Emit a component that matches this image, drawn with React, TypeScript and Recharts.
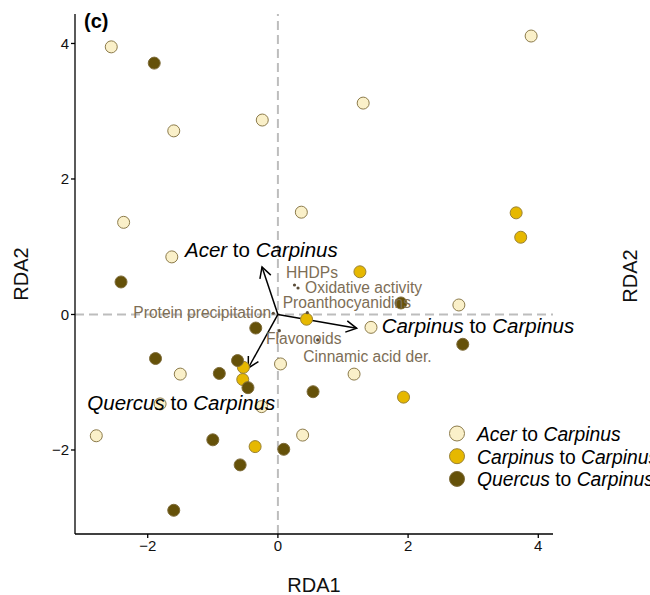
import { ScatterChart, Scatter, XAxis, YAxis, ReferenceLine, Legend } from 'recharts'

const FONT = '"Liberation Sans", Arial, sans-serif'

// site scores (RDA1, RDA2)
const acer = [
  { x: -2.56, y: 3.95 }, { x: 3.89, y: 4.11 }, { x: -1.6, y: 2.71 }, { x: -0.24, y: 2.87 },
  { x: 1.31, y: 3.12 }, { x: 0.36, y: 1.51 }, { x: -2.37, y: 1.36 }, { x: -1.63, y: 0.85 },
  { x: 2.78, y: 0.14 }, { x: 1.43, y: -0.19 }, { x: 0.04, y: -0.73 }, { x: -1.5, y: -0.88 },
  { x: 1.17, y: -0.88 }, { x: -1.81, y: -1.32 }, { x: -0.25, y: -1.36 }, { x: -2.79, y: -1.79 },
  { x: 0.38, y: -1.78 },
]
const carpinus = [
  { x: 3.66, y: 1.5 }, { x: 3.73, y: 1.14 }, { x: 1.26, y: 0.63 }, { x: 0.44, y: -0.07 },
  { x: -0.53, y: -0.78 }, { x: -0.54, y: -0.96 }, { x: 1.93, y: -1.22 }, { x: -0.35, y: -1.95 },
]
const quercus = [
  { x: -1.9, y: 3.71 }, { x: -2.41, y: 0.48 }, { x: 1.89, y: 0.17 }, { x: -0.34, y: -0.2 },
  { x: -1.88, y: -0.65 }, { x: -0.9, y: -0.87 }, { x: -0.62, y: -0.68 }, { x: -0.46, y: -1.08 },
  { x: 2.84, y: -0.44 }, { x: 0.54, y: -1.14 }, { x: -1.0, y: -1.85 }, { x: -0.58, y: -2.22 },
  { x: 0.09, y: -1.99 }, { x: -1.6, y: -2.89 },
]

// centroid arrows of the constraining factor
const arrows = [
  { from: 'Acer', x: -0.244, y: 0.701 },
  { from: 'Carpinus', x: 1.21, y: -0.204 },
  { from: 'Quercus', x: -0.455, y: -0.79 },
]

// fitted chemical variables
const envVars = [
  { name: 'HHDPs', x: 0.255, y: 0.435 },
  { name: 'Oxidative activity', x: 0.309, y: 0.391 },
  { name: 'Proanthocyanidins', x: 0.452, y: 0.027 },
  { name: 'Protein precipitation', x: -0.071, y: 0.018 },
  { name: 'Flavonoids', x: 0.022, y: -0.239 },
  { name: 'Cinnamic acid der.', x: 0.611, y: -0.376 },
]

const xTicks = [-2, 0, 2, 4]
const yTicks = [-2, 0, 2, 4]

const series = [
  { genus: 'Acer', data: acer, fill: '#FAF0C9', stroke: '#8C7B4B' },
  { genus: 'Carpinus', data: carpinus, fill: '#E6B800', stroke: '#9A8235' },
  { genus: 'Quercus', data: quercus, fill: '#655109', stroke: '#7E6C3A' },
]

// label nudges in px (like ggrepel output)
const envOffsets: Record<string, [number, number]> = {
  HHDPs: [-8.5, -7.3],
  'Oxidative activity': [7, 5.3],
  Proanthocyanidins: [-24.6, -5],
  'Protein precipitation': [-140, 5],
  Flavonoids: [-13.3, 13.6],
  'Cinnamic acid der.': [-14.4, 21.7],
}
const arrowOffsets: Record<string, [number, number]> = {
  Acer: [-77, -10],
  Carpinus: [25, 5],
  Quercus: [-161, 42],
}

const fmt = (v: number) => (v < 0 ? `\u2212${-v}` : `${v}`)

const dot = (fill: string, stroke: string) => (p: any) =>
  <circle cx={p.cx} cy={p.cy} r={6} fill={fill} stroke={stroke} strokeWidth={1} />

const Arrow = (p: any) => {
  const { x1, y1, x2, y2 } = p
  const a = Math.atan2(y2 - y1, x2 - x1)
  const L = 12, w = 0.5
  const h1 = [x2 - L * Math.cos(a - w), y2 - L * Math.sin(a - w)]
  const h2 = [x2 - L * Math.cos(a + w), y2 - L * Math.sin(a + w)]
  return (
    <g stroke="#000" strokeWidth={1.5} fill="none">
      <line x1={x1} y1={y1} x2={x2} y2={y2} />
      <polyline points={`${h1[0]},${h1[1]} ${x2},${y2} ${h2[0]},${h2[1]}`} />
    </g>
  )
}

const ArrowLabel = (p: any) => {
  const [dx, dy] = arrowOffsets[p.payload.from]
  return (
    <text x={p.cx + dx} y={p.cy + dy} fontSize={20.5} fontFamily={FONT} fill="#000">
      <tspan fontStyle="italic">{p.payload.from}</tspan>
      {' to '}
      <tspan fontStyle="italic">Carpinus</tspan>
    </text>
  )
}

const EnvPoint = (p: any) => {
  const [dx, dy] = envOffsets[p.payload.name]
  return (
    <g>
      <circle cx={p.cx} cy={p.cy} r={1.6} fill="#5A4C38" />
      <text x={p.cx + dx} y={p.cy + dy} fontSize={15.6} fontFamily={FONT} fill="#7D6E56">
        {p.payload.name}
      </text>
    </g>
  )
}

const LegendBox = () => (
  <svg width={220} height={72} style={{ overflow: 'visible' }}>
    {series.map((s, i) => (
      <g key={s.genus}>
        <circle cx={10} cy={9.5 + i * 22.7} r={7.5} fill={s.fill} stroke={s.stroke} strokeWidth={1} />
        <text x={30} y={17 + i * 22.7} fontSize={19.3} fontFamily={FONT} fill="#000">
          <tspan fontStyle="italic">{s.genus}</tspan>
          {' to '}
          <tspan fontStyle="italic">Carpinus</tspan>
        </text>
      </g>
    ))}
  </svg>
)

export default function App() {
  return (
    <div style={{ position: 'absolute', left: 0, top: 0, width: 650, height: 595, overflow: 'hidden', background: '#fff' }}>
      <ScatterChart width={650} height={595} margin={{ top: 14, right: 97, left: 0, bottom: 0 }}>
        <XAxis
          type="number"
          dataKey="x"
          domain={[-3.117, 4.226]}
          ticks={xTicks}
          tickFormatter={fmt}
          height={61}
          stroke="#000"
          strokeWidth={1.3}
          tickSize={4}
          tick={{ fill: '#111', fontSize: 15, fontFamily: FONT }}
          label={{
            content: ({ viewBox }: any) => (
              <text x={viewBox.x + viewBox.width / 2} y={591.5} textAnchor="middle" fontSize={20} fontFamily={FONT} fill="#111">
                RDA1
              </text>
            ),
          }}
        />
        <YAxis
          type="number"
          dataKey="y"
          domain={[-3.24, 4.435]}
          ticks={yTicks}
          tickFormatter={fmt}
          width={75}
          stroke="#000"
          strokeWidth={1.3}
          tickSize={4}
          tick={{ fill: '#111', fontSize: 15, fontFamily: FONT }}
          label={{
            content: ({ viewBox }: any) => {
              const cy = viewBox.y + viewBox.height / 2
              return (
                <text x={27.5} y={cy} transform={`rotate(-90, 27.5, ${cy})`} textAnchor="middle" fontSize={20} fontFamily={FONT} fill="#111">
                  RDA2
                </text>
              )
            },
          }}
        />
        <ReferenceLine x={0} stroke="#BDBDBD" strokeWidth={2} strokeDasharray="9 5" />
        <ReferenceLine y={0} stroke="#BDBDBD" strokeWidth={2} strokeDasharray="9 5" />
        {series.map((s) => (
          <Scatter key={s.genus} name={`${s.genus} to Carpinus`} data={s.data} shape={dot(s.fill, s.stroke)} isAnimationActive={false} />
        ))}
        {arrows.map((a) => (
          <ReferenceLine key={a.from} segment={[{ x: 0, y: 0 }, { x: a.x, y: a.y }]} shape={Arrow} />
        ))}
        <Scatter data={envVars} shape={EnvPoint} isAnimationActive={false} />
        <Scatter data={arrows} shape={ArrowLabel} isAnimationActive={false} />
        <Legend
          layout="horizontal"
          verticalAlign="middle"
          align="center"
          wrapperStyle={{ left: 447, top: 424, width: 'auto', height: 'auto' }}
          content={LegendBox}
        />
      </ScatterChart>
      <svg width={650} height={595} style={{ position: 'absolute', left: 0, top: 0, pointerEvents: 'none' }}>
        <text x={84} y={28} fontSize={20} fontWeight="bold" fontFamily={FONT} fill="#000">(c)</text>
        <text x={637} y={276} transform="rotate(-90, 637, 276)" textAnchor="middle" fontSize={20} fontFamily={FONT} fill="#111">
          RDA2
        </text>
      </svg>
    </div>
  )
}
